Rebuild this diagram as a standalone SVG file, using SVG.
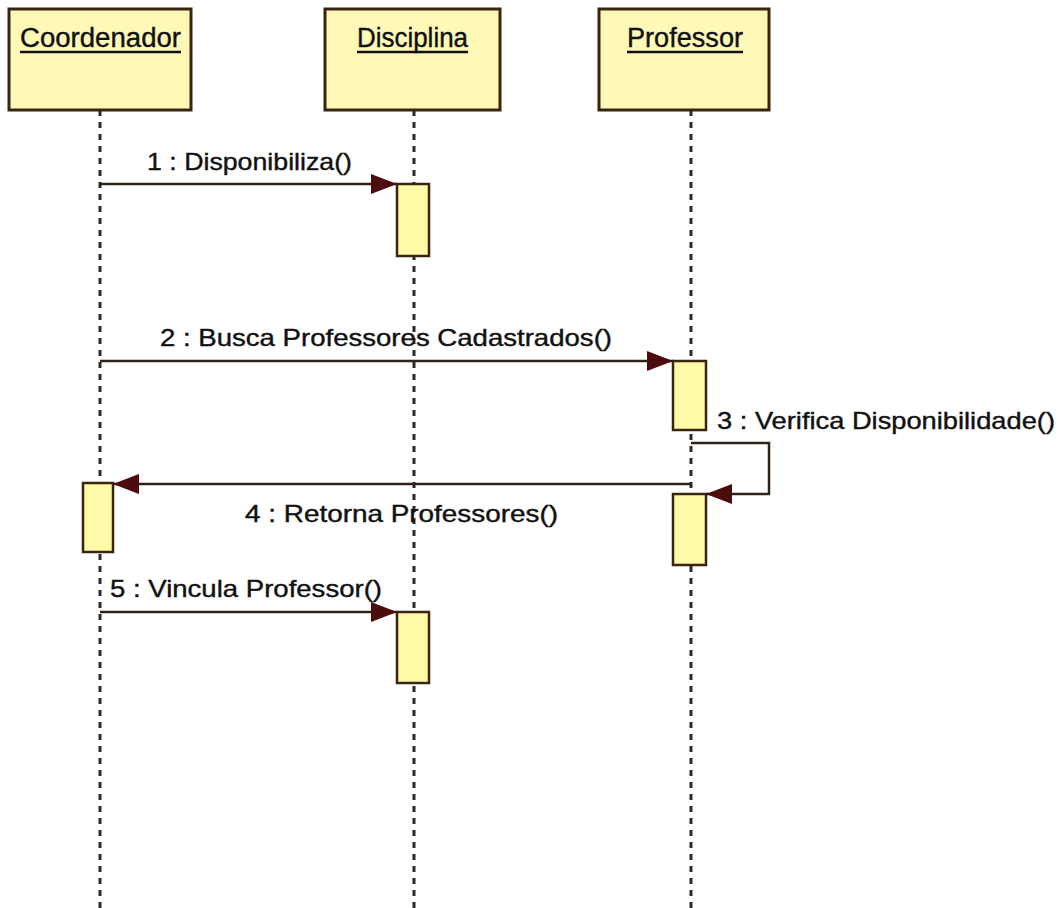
<svg xmlns="http://www.w3.org/2000/svg" width="1058" height="908" viewBox="0 0 1058 908">
<style>
.obj{fill:#fff9b8;stroke:#3a2410;stroke-width:3}
.bar{fill:#fffaa8;stroke:#3a2410;stroke-width:2.5}
.life{stroke:#2a2a2a;stroke-width:3;stroke-dasharray:6 6;fill:none}
.title{font-family:"Liberation Sans",Arial,sans-serif;font-size:27px;fill:#111;stroke:#111;stroke-width:0.4}
.ul{stroke:#111;stroke-width:2.5}
.msg{stroke:#2e2418;stroke-width:2.5;fill:none}
.lbl{font-family:"Liberation Sans",Arial,sans-serif;font-size:24px;fill:#111;stroke:#111;stroke-width:0.4}
</style>
<defs>
<marker id="ah" markerWidth="26" markerHeight="20" refX="26" refY="10" orient="auto" markerUnits="userSpaceOnUse">
<path d="M0,0 L26,10 L0,20 Z" fill="#4a0c0c"/>
</marker>
</defs>
<rect width="1058" height="908" fill="#fff"/>
<g id="lifelines">
<line class="life" x1="100" y1="110" x2="100" y2="908"/>
<line class="life" x1="414" y1="110" x2="414" y2="908"/>
<line class="life" x1="691" y1="110" x2="691" y2="908"/>
</g>
<g id="coordenador">
<rect class="obj" x="9" y="9" width="182" height="101"/>
<text class="title" x="20" y="47" textLength="161" lengthAdjust="spacingAndGlyphs">Coordenador</text>
<line class="ul" x1="20" y1="52" x2="181" y2="52"/>
</g>
<g id="disciplina">
<rect class="obj" x="325" y="9" width="175" height="101"/>
<text class="title" x="357" y="47" textLength="111" lengthAdjust="spacingAndGlyphs">Disciplina</text>
<line class="ul" x1="357" y1="52" x2="468" y2="52"/>
</g>
<g id="professor">
<rect class="obj" x="599" y="9" width="170" height="101"/>
<text class="title" x="627" y="47" textLength="116" lengthAdjust="spacingAndGlyphs">Professor</text>
<line class="ul" x1="627" y1="52" x2="743" y2="52"/>
</g>
<g id="activations">
<rect class="bar" x="397" y="184" width="32" height="72"/>
<rect class="bar" x="673" y="361" width="33" height="69"/>
<rect class="bar" x="673" y="494" width="33" height="71"/>
<rect class="bar" x="83" y="483" width="30" height="69"/>
<rect class="bar" x="397" y="612" width="32" height="71"/>
</g>
<g id="connectors">
<line class="msg" x1="100" y1="184" x2="397" y2="184" marker-end="url(#ah)"/>
<line class="msg" x1="100" y1="361" x2="673" y2="361" marker-end="url(#ah)"/>
<polyline class="msg" points="691,443 769,443 769,494 706,494" marker-end="url(#ah)"/>
<line class="msg" x1="691" y1="484" x2="113" y2="484" marker-end="url(#ah)"/>
<line class="msg" x1="100" y1="612" x2="397" y2="612" marker-end="url(#ah)"/>
</g>
<g id="labels">
<text class="lbl" x="147" y="170" textLength="205" lengthAdjust="spacingAndGlyphs">1 : Disponibiliza()</text>
<text class="lbl" x="160" y="346" textLength="452" lengthAdjust="spacingAndGlyphs">2 : Busca Professores Cadastrados()</text>
<text class="lbl" x="717" y="429" textLength="338" lengthAdjust="spacingAndGlyphs">3 : Verifica Disponibilidade()</text>
<text class="lbl" x="245" y="522" textLength="313" lengthAdjust="spacingAndGlyphs">4 : Retorna Professores()</text>
<text class="lbl" x="110" y="597" textLength="272" lengthAdjust="spacingAndGlyphs">5 : Vincula Professor()</text>
</g>
</svg>
